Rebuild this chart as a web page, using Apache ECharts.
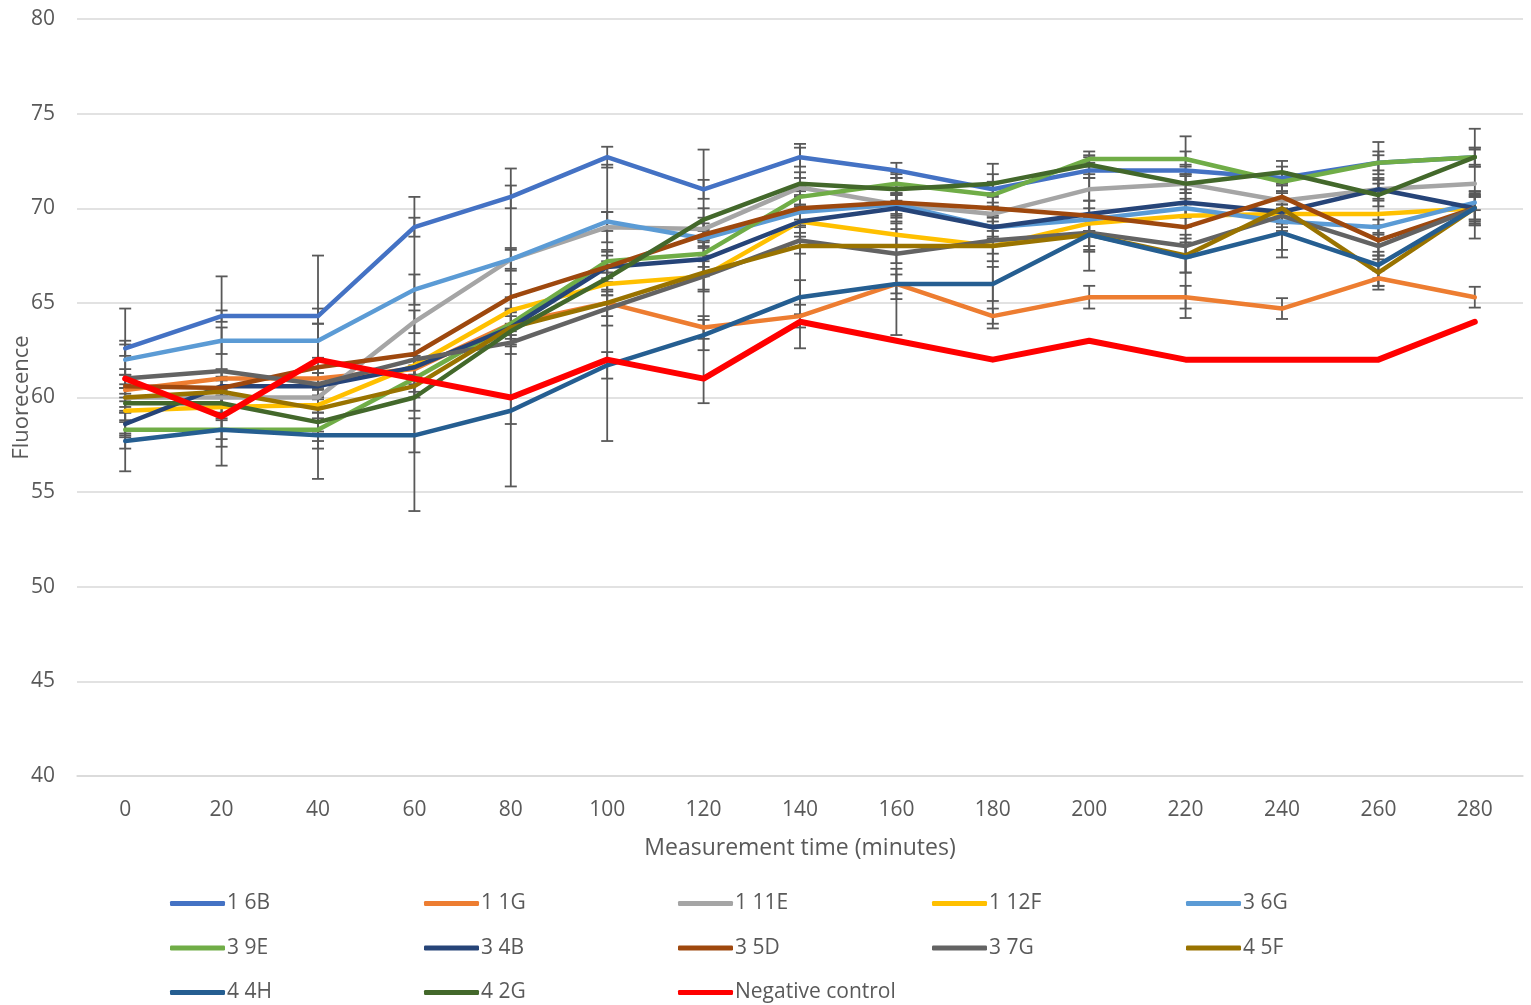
<!DOCTYPE html>
<html lang="en" style="height: 100%">
<head>
    <meta charset="utf-8">
    <script type="text/javascript" src="https://cdn.jsdelivr.net/npm/echarts@6/dist/echarts.min.js"></script>
</head>
<body style="height: 100%; margin: 0; background: #fff">
    <div id="chart" style="height: 1005px; width: 1531px"></div>
    <script type="text/javascript">
        // measurement times (minutes)
        var times = ['0', '20', '40', '60', '80', '100', '120', '140', '160', '180', '200', '220', '240', '260', '280'];

        var names = ['1 6B', '1 1G', '1 11E', '1 12F', '3 6G', '3 9E', '3 4B', '3 5D', '3 7G', '4 5F', '4 4H', '4 2G', 'Negative control'];
        var colors = ['#4472C4', '#ED7D31', '#A5A5A5', '#FFC000', '#5B9BD5', '#70AD47', '#264478', '#9E480E', '#636363', '#997300', '#255E91', '#43682B', '#FF0000'];

        // mean fluorescence
        var s16B  = [62.6, 64.3, 64.3, 69.0, 70.6, 72.7, 71.0, 72.7, 72.0, 71.0, 72.0, 72.0, 71.6, 72.4, 72.7];
        var s11G  = [60.4, 61.0, 61.0, 61.5, 63.9, 65.0, 63.7, 64.3, 66.0, 64.3, 65.3, 65.3, 64.7, 66.3, 65.3];
        var s111E = [60.0, 60.0, 60.0, 64.0, 67.3, 69.0, 68.9, 71.1, 70.2, 69.7, 71.0, 71.3, 70.4, 71.0, 71.3];
        var s112F = [59.3, 59.5, 59.6, 61.7, 64.6, 66.0, 66.4, 69.3, 68.6, 68.0, 69.2, 69.6, 69.7, 69.7, 70.0];
        var s36G  = [62.0, 63.0, 63.0, 65.7, 67.3, 69.3, 68.4, 69.8, 70.2, 69.0, 69.4, 70.0, 69.3, 69.0, 70.3];
        var s39E  = [58.3, 58.3, 58.3, 61.0, 63.9, 67.2, 67.6, 70.6, 71.3, 70.7, 72.6, 72.6, 71.4, 72.4, 72.7];
        var s34B  = [58.6, 60.6, 60.6, 61.6, 63.7, 66.9, 67.3, 69.3, 70.0, 69.0, 69.7, 70.3, 69.8, 71.0, 70.0];
        var s35D  = [60.6, 60.5, 61.6, 62.3, 65.3, 66.9, 68.6, 70.0, 70.3, 70.0, 69.6, 69.0, 70.6, 68.3, 70.0];
        var s37G  = [61.0, 61.4, 60.7, 62.0, 62.9, 64.7, 66.4, 68.3, 67.6, 68.3, 68.7, 68.0, 69.6, 68.0, 70.0];
        var s45F  = [60.0, 60.3, 59.4, 60.6, 63.7, 65.0, 66.6, 68.0, 68.0, 68.0, 68.6, 67.5, 70.0, 66.6, 70.0];
        var s44H  = [57.7, 58.3, 58.0, 58.0, 59.3, 61.7, 63.3, 65.3, 66.0, 66.0, 68.6, 67.4, 68.7, 67.0, 70.0];
        var s42G  = [59.7, 59.7, 58.7, 60.0, 63.5, 66.3, 69.4, 71.3, 71.0, 71.3, 72.3, 71.3, 71.9, 70.7, 72.7];
        var sNeg  = [61, 59, 62, 61, 60, 62, 61, 64, 63, 62, 63, 62, 62, 62, 64];

        // error bar half-widths (± value)
        var e16B  = [0.4, 0.3, 0.4, 0.5, 0.6, 0.55, 0.5, 0.5, 0.4, 0.4, 0.4, 0.3, 0.3, 0.4, 0.5];
        var e11G  = [4.3, 0.5, 0.6, 0.5, 0.6, 0.7, 0.6, 0.6, 0.5, 0.4, 0.6, 0.6, 0.55, 0.4, 0.55];
        var e111E = [0.5, 0.4, 0.5, 0.6, 0.5, 0.8, 0.6, 0.5, 0.5, 0.6, 0.6, 0.5, 0.5, 0.6, 2.9];
        var e112F = [0.5, 0.6, 0.4, 0.5, 0.7, 0.6, 0.8, 0.6, 0.6, 0.8, 0.5, 0.6, 0.5, 3.8, 0.6];
        var e36G  = [0.8, 0.7, 0.9, 0.8, 0.6, 0.5, 0.5, 0.4, 0.6, 0.5, 0.6, 0.5, 0.5, 0.4, 0.4];
        var e39E  = [0.4, 0.5, 0.6, 0.7, 0.8, 0.6, 0.7, 0.5, 0.5, 0.6, 0.4, 0.4, 0.5, 0.6, 0.5];
        var e34B  = [0.6, 0.5, 0.7, 0.6, 8.4, 0.6, 0.9, 0.8, 0.7, 0.6, 3.0, 0.7, 2.4, 0.5, 0.6];
        var e35D  = [0.6, 0.9, 5.9, 8.3, 0.7, 0.8, 0.6, 0.9, 0.8, 0.7, 0.8, 4.8, 0.6, 0.8, 0.7];
        var e37G  = [0.5, 5.0, 0.6, 0.8, 0.6, 0.9, 6.7, 0.7, 4.3, 0.7, 0.7, 0.6, 0.6, 0.7, 0.8];
        var e45F  = [0.7, 0.6, 0.7, 0.6, 0.9, 7.3, 0.9, 5.4, 0.9, 4.35, 0.8, 0.9, 0.8, 0.9, 0.9];
        var e44H  = [0.4, 0.9, 0.7, 0.9, 0.7, 0.7, 0.8, 0.9, 0.8, 0.9, 0.9, 0.8, 0.9, 0.7, 0.9];
        var e42G  = [0.5, 0.6, 0.5, 0.7, 0.8, 0.9, 0.6, 0.6, 0.6, 0.5, 0.5, 0.5, 0.6, 0.6, 0.4];

        var values = [s16B, s11G, s111E, s112F, s36G, s39E, s34B, s35D, s37G, s45F, s44H, s42G, sNeg];
        var errors = [e16B, e11G, e111E, e112F, e36G, e39E, e34B, e35D, e37G, e45F, e44H, e42G, null];

        var font = 'Open Sans';
        var textColor = '#595959';

        function errorBars(params, api) {
            var low = api.coord([api.value(0), api.value(1)]);
            var high = api.coord([api.value(0), api.value(2)]);
            var half = 6;
            var style = { stroke: '#595959', lineWidth: 1.8, fill: null };
            return {
                type: 'group',
                children: [
                    { type: 'line', shape: { x1: low[0], y1: low[1], x2: high[0], y2: high[1] }, style: style },
                    { type: 'line', shape: { x1: low[0] - half, y1: low[1], x2: low[0] + half, y2: low[1] }, style: style },
                    { type: 'line', shape: { x1: high[0] - half, y1: high[1], x2: high[0] + half, y2: high[1] }, style: style }
                ]
            };
        }

        var series = [];
        names.forEach(function (name, i) {
            if (errors[i]) {
                series.push({
                    type: 'custom',
                    name: name + ' err',
                    renderItem: errorBars,
                    z: 1,
                    silent: true,
                    data: values[i].map(function (v, j) {
                        return [j, v - errors[i][j], v + errors[i][j]];
                    })
                });
            }
        });
        names.forEach(function (name, i) {
            series.push({
                type: 'line',
                name: name,
                data: values[i],
                symbol: 'none',
                z: 3,
                itemStyle: { color: colors[i] },
                lineStyle: { color: colors[i], width: i === 12 ? 6 : 4.5, cap: 'round', join: 'round' }
            });
        });

        // one legend per entry, laid out in a 5-column grid
        var legends = names.map(function (name, i) {
            return {
                data: [name],
                left: 170 + (i % 5) * 254,
                top: 893 + Math.floor(i / 5) * 44.5,
                icon: 'roundRect',
                itemWidth: 55,
                itemHeight: 5,
                itemGap: 0,
                padding: 0,
                textStyle: { color: textColor, fontSize: 21, fontFamily: font, padding: [0, 0, 0, -3] }
            };
        });

        var chart = echarts.init(document.getElementById('chart'));
        chart.setOption({
            animation: false,
            grid: { left: 77, right: 8, top: 19, bottom: 229, outerBoundsMode: 'none', containLabel: false },
            legend: legends,
            xAxis: {
                type: 'category',
                data: times,
                boundaryGap: true,
                name: 'Measurement time (minutes)',
                nameLocation: 'middle',
                nameGap: 61,
                nameMoveOverlap: false,
                nameTextStyle: { color: textColor, fontSize: 23, fontFamily: font },
                axisLine: { lineStyle: { color: '#d9d9d9', width: 1.5 } },
                axisTick: { show: false },
                axisLabel: { color: textColor, fontSize: 21, fontFamily: font, margin: 24 }
            },
            yAxis: {
                type: 'value',
                min: 40,
                max: 80,
                interval: 5,
                name: 'Fluorecence',
                nameLocation: 'middle',
                nameGap: 44,
                nameMoveOverlap: false,
                nameTextStyle: { color: textColor, fontSize: 22, fontFamily: font },
                axisLine: { show: false },
                axisTick: { show: false },
                splitLine: { lineStyle: { color: '#d9d9d9', width: 1.5 } },
                axisLabel: { color: textColor, fontSize: 21, fontFamily: font, margin: 22 }
            },
            series: series
        });
    </script>
</body>
</html>
